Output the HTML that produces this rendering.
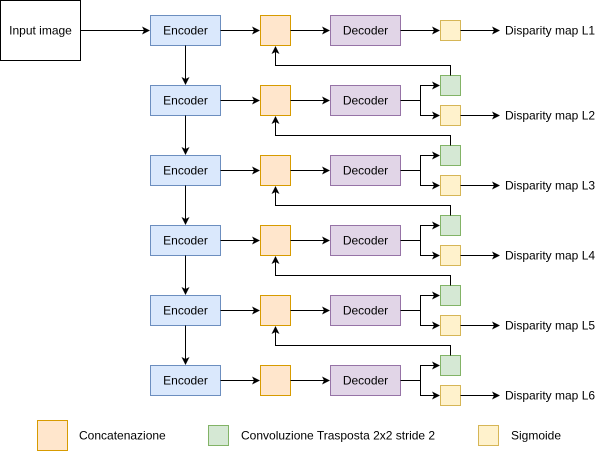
<!DOCTYPE html>
<html><head><meta charset="utf-8"><style>
html,body{margin:0;padding:0;background:#fff;}
svg{display:block;}
text{font-family:"Liberation Sans",Helvetica,Arial,sans-serif;font-size:12px;fill:#000;}
</style></head><body>
<svg width="601" height="451" viewBox="0 0 601 451" xmlns="http://www.w3.org/2000/svg">
<defs>
<marker id="a" markerWidth="8" markerHeight="8" refX="7" refY="4" orient="auto" markerUnits="userSpaceOnUse">
<path d="M0,0 L8,4 L0,8 L2,4 z" fill="#000"/>
</marker>
<g id="row">
<rect x="150.5" y="15.5" width="70" height="30" fill="#dae8fc" stroke="#6c8ebf"/>
<text x="185.5" y="34.5" text-anchor="middle">Encoder</text>
<line x1="220.5" y1="30.5" x2="259" y2="30.5" stroke="#000" marker-end="url(#a)"/>
<rect x="260.5" y="15.5" width="30" height="30" fill="#ffe6cc" stroke="#d79b00"/>
<line x1="290.5" y1="30.5" x2="329" y2="30.5" stroke="#000" marker-end="url(#a)"/>
<rect x="330.5" y="15.5" width="70" height="30" fill="#e1d5e7" stroke="#9673a6"/>
<text x="365.5" y="34.5" text-anchor="middle">Decoder</text>
</g>
<g id="br">
<path d="M400.5,30.5 H420.5 V15.5 H439" fill="none" stroke="#000" marker-end="url(#a)"/>
<path d="M420.5,30.5 V45.5 H439" fill="none" stroke="#000" marker-end="url(#a)"/>
<rect x="440.5" y="5.5" width="20" height="20" fill="#d5e8d4" stroke="#82b366"/>
<rect x="440.5" y="35.5" width="20" height="20" fill="#fff2cc" stroke="#d6b656"/>
<line x1="460.5" y1="45.5" x2="499" y2="45.5" stroke="#000" marker-end="url(#a)"/>
<path d="M450.5,5.5 V-4.5 H275.5 V-23" fill="none" stroke="#000" marker-end="url(#a)"/>
</g>
</defs>
<rect x="0.5" y="0.5" width="80" height="60" fill="#fff" stroke="#000"/>
<text x="40.5" y="34.5" text-anchor="middle">Input image</text>
<line x1="80.5" y1="30.5" x2="149" y2="30.5" stroke="#000" marker-end="url(#a)"/>

<use href="#row" y="0"/>
<use href="#row" y="70"/>
<use href="#row" y="140"/>
<use href="#row" y="210"/>
<use href="#row" y="280"/>
<use href="#row" y="350"/>

<line x1="185.5" y1="45.5" x2="185.5" y2="84" stroke="#000" marker-end="url(#a)"/>
<line x1="185.5" y1="115.5" x2="185.5" y2="154" stroke="#000" marker-end="url(#a)"/>
<line x1="185.5" y1="185.5" x2="185.5" y2="224" stroke="#000" marker-end="url(#a)"/>
<line x1="185.5" y1="255.5" x2="185.5" y2="294" stroke="#000" marker-end="url(#a)"/>
<line x1="185.5" y1="325.5" x2="185.5" y2="364" stroke="#000" marker-end="url(#a)"/>

<line x1="400.5" y1="30.5" x2="439" y2="30.5" stroke="#000" marker-end="url(#a)"/>
<rect x="440.5" y="20.5" width="20" height="20" fill="#fff2cc" stroke="#d6b656"/>
<line x1="460.5" y1="30.5" x2="499" y2="30.5" stroke="#000" marker-end="url(#a)"/>
<text x="505" y="34.5">Disparity map L1</text>

<use href="#br" y="70"/>
<use href="#br" y="140"/>
<use href="#br" y="210"/>
<use href="#br" y="280"/>
<use href="#br" y="350"/>
<text x="505" y="119.5">Disparity map L2</text>
<text x="505" y="189.5">Disparity map L3</text>
<text x="505" y="259.5">Disparity map L4</text>
<text x="505" y="329.5">Disparity map L5</text>
<text x="505" y="399.5">Disparity map L6</text>

<rect x="37.5" y="420.5" width="30" height="30" fill="#ffe6cc" stroke="#d79b00"/>
<text x="79" y="439.5">Concatenazione</text>
<rect x="208.5" y="425.5" width="20" height="20" fill="#d5e8d4" stroke="#82b366"/>
<text x="241" y="439.5">Convoluzione Trasposta 2x2 stride 2</text>
<rect x="478.5" y="425.5" width="20" height="20" fill="#fff2cc" stroke="#d6b656"/>
<text x="511" y="439.5">Sigmoide</text>
</svg>
</body></html>
